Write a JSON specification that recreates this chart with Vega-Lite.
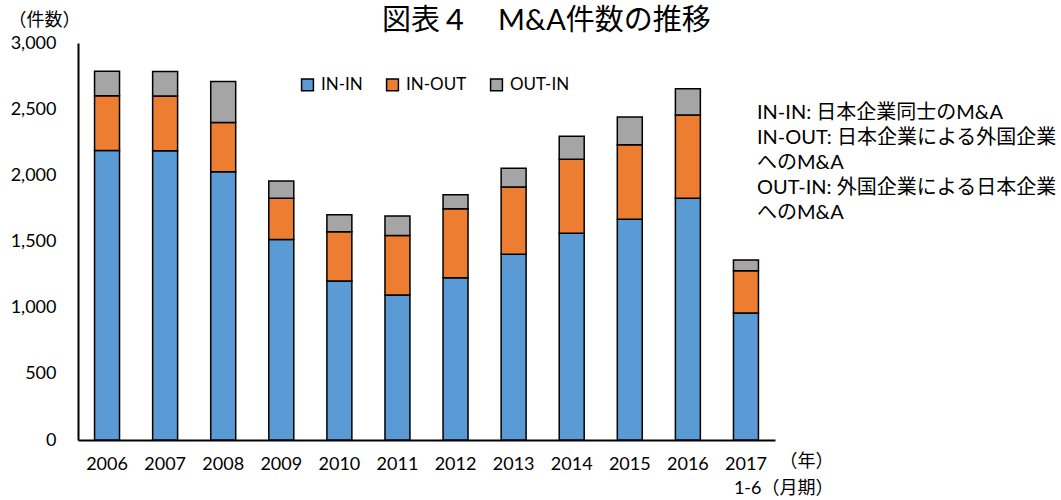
{
  "$schema": "https://vega.github.io/schema/vega-lite/v6.json",
  "width": 697,
  "height": 397,
  "autosize": {"type": "none"},
  "padding": {"left": 78, "top": 43, "right": 286, "bottom": 60},
  "background": "white",
  "title": {"text": "図表４　M&A件数の推移", "fontSize": 29, "fontWeight": "normal", "anchor": "start", "dx": 304, "dy": 35, "offset": 10, "color": "black", "frame": "group"},
  "config": {"font": "Lato, 'Noto Sans CJK JP', sans-serif", "view": {"stroke": null}},
  "layer": [
    {
      "data": {"values": [
        {"year": "2006", "type": "IN-IN", "ord": 1, "count": 2188},
        {"year": "2006", "type": "IN-OUT", "ord": 2, "count": 413},
        {"year": "2006", "type": "OUT-IN", "ord": 3, "count": 186},
        {"year": "2007", "type": "IN-IN", "ord": 1, "count": 2186},
        {"year": "2007", "type": "IN-OUT", "ord": 2, "count": 413},
        {"year": "2007", "type": "OUT-IN", "ord": 3, "count": 185},
        {"year": "2008", "type": "IN-IN", "ord": 1, "count": 2027},
        {"year": "2008", "type": "IN-OUT", "ord": 2, "count": 373},
        {"year": "2008", "type": "OUT-IN", "ord": 3, "count": 309},
        {"year": "2009", "type": "IN-IN", "ord": 1, "count": 1516},
        {"year": "2009", "type": "IN-OUT", "ord": 2, "count": 310},
        {"year": "2009", "type": "OUT-IN", "ord": 3, "count": 131},
        {"year": "2010", "type": "IN-IN", "ord": 1, "count": 1201},
        {"year": "2010", "type": "IN-OUT", "ord": 2, "count": 373},
        {"year": "2010", "type": "OUT-IN", "ord": 3, "count": 129},
        {"year": "2011", "type": "IN-IN", "ord": 1, "count": 1095},
        {"year": "2011", "type": "IN-OUT", "ord": 2, "count": 451},
        {"year": "2011", "type": "OUT-IN", "ord": 3, "count": 147},
        {"year": "2012", "type": "IN-IN", "ord": 1, "count": 1226},
        {"year": "2012", "type": "IN-OUT", "ord": 2, "count": 522},
        {"year": "2012", "type": "OUT-IN", "ord": 3, "count": 106},
        {"year": "2013", "type": "IN-IN", "ord": 1, "count": 1403},
        {"year": "2013", "type": "IN-OUT", "ord": 2, "count": 508},
        {"year": "2013", "type": "OUT-IN", "ord": 3, "count": 142},
        {"year": "2014", "type": "IN-IN", "ord": 1, "count": 1562},
        {"year": "2014", "type": "IN-OUT", "ord": 2, "count": 560},
        {"year": "2014", "type": "OUT-IN", "ord": 3, "count": 173},
        {"year": "2015", "type": "IN-IN", "ord": 1, "count": 1669},
        {"year": "2015", "type": "IN-OUT", "ord": 2, "count": 562},
        {"year": "2015", "type": "OUT-IN", "ord": 3, "count": 210},
        {"year": "2016", "type": "IN-IN", "ord": 1, "count": 1826},
        {"year": "2016", "type": "IN-OUT", "ord": 2, "count": 629},
        {"year": "2016", "type": "OUT-IN", "ord": 3, "count": 200},
        {"year": "2017", "type": "IN-IN", "ord": 1, "count": 959},
        {"year": "2017", "type": "IN-OUT", "ord": 2, "count": 320},
        {"year": "2017", "type": "OUT-IN", "ord": 3, "count": 82}
      ]},
      "mark": {"type": "bar", "stroke": "black", "strokeWidth": 1.5},
      "encoding": {
        "x": {
          "field": "year", "type": "ordinal",
          "scale": {"paddingInner": 0.57, "paddingOuter": 0.285},
          "axis": {
            "title": ["（年）", "1-6（月期）"],
            "titleFontSize": 18, "titleFontWeight": "normal", "titleColor": "black",
            "titleAlign": "right", "titleAnchor": null, "titleX": 755, "titleY": 12, "titleBaseline": "top", "titleLineHeight": 27, "titleAngle": 0,
            "labelAngle": 0, "labelFontSize": 18, "labelColor": "black", "labelPadding": 15,
            "ticks": false, "domainColor": "black", "domainWidth": 2, "grid": false
          }
        },
        "y": {
          "field": "count", "type": "quantitative", "stack": "zero",
          "scale": {"domain": [0, 3000], "nice": false},
          "axis": {
            "title": "（件数）", "titleFontSize": 18, "titleFontWeight": "normal", "titleColor": "black",
            "titleAngle": 0, "titleAlign": "left", "titleBaseline": "middle", "titleAnchor": null, "titleX": -70, "titleY": -23,
            "values": [0, 500, 1000, 1500, 2000, 2500, 3000], "format": ",d",
            "labelFontSize": 18, "labelColor": "black", "labelPadding": 22,
            "ticks": false, "domainColor": "black", "domainWidth": 2, "grid": false
          }
        },
        "color": {
          "field": "type", "type": "nominal",
          "scale": {"domain": ["IN-IN", "IN-OUT", "OUT-IN"], "range": ["#5B9BD5", "#ED7D31", "#A5A5A5"]},
          "legend": {
            "title": null, "orient": "none", "legendX": 221, "legendY": 33, "direction": "horizontal",
            "symbolType": "square", "symbolStrokeColor": "black", "symbolStrokeWidth": 1.5, "symbolSize": 140,
            "labelFontSize": 17, "labelColor": "black", "labelOffset": 5, "columnPadding": 20
          }
        },
        "order": {"field": "ord", "type": "quantitative"}
      }
    },
    {
      "data": {"values": [{"id": 1}, {"id": 2}, {"id": 3}, {"id": 4}, {"id": 5}]},
      "mark": {"type": "point", "opacity": 0},
      "encoding": {
        "shape": {
          "field": "id", "type": "nominal",
          "legend": {
            "title": null, "orient": "none", "legendX": 659, "legendY": 60, "direction": "vertical",
            "symbolSize": 0, "symbolOpacity": 0, "symbolStrokeWidth": 0, "labelOffset": 0,
            "labelFontSize": 20, "labelColor": "black", "rowPadding": 5, "labelLimit": 500,
            "labelExpr": "['IN-IN: 日本企業同士のM&A', 'IN-OUT: 日本企業による外国企業', 'へのM&A', 'OUT-IN: 外国企業による日本企業', 'へのM&A'][datum.value - 1]"
          }
        }
      }
    }
  ]
}
